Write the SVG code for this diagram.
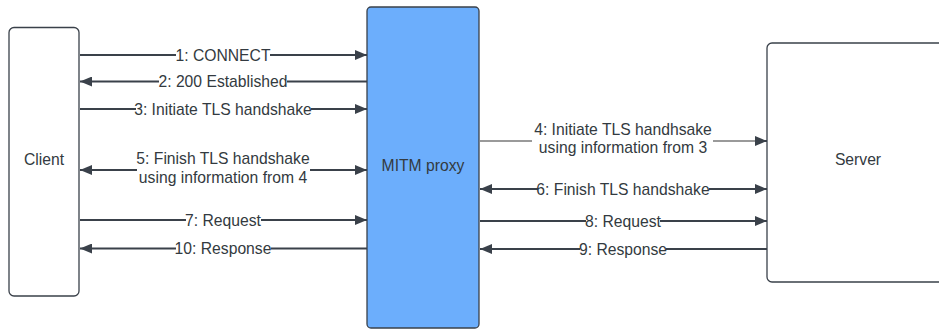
<svg xmlns="http://www.w3.org/2000/svg" width="939" height="329" viewBox="0 0 939 329">
<defs>
<style>
.box{fill:#ffffff;stroke:#3a414a;stroke-width:1.3}
.proxy{fill:#6caefc;stroke:#3a414a;stroke-width:1.3}
.t{font-family:"Liberation Sans",Arial,sans-serif;font-size:15.7px;fill:#333a40;text-anchor:middle}
.ln{stroke:#3a414a;stroke-width:2;fill:none}
.lg{stroke:#9a9a9a;stroke-width:2;fill:none}
.bg{fill:#ffffff}
</style>
<marker id="ah" viewBox="0 0 12 10" refX="12" refY="5" markerWidth="12" markerHeight="10" markerUnits="userSpaceOnUse" orient="auto-start-reverse">
<path d="M0,0 L12,5 L0,10 Z" fill="#3a414a"/>
</marker>
</defs>
<rect width="939" height="329" fill="#ffffff"/>
<g id="client"><rect class="box" x="9" y="27.5" width="70" height="268.5" rx="5"/><text class="t" x="44" y="165">Client</text></g>
<g id="proxy"><rect class="proxy" x="367" y="7" width="112" height="321" rx="4"/><text class="t" x="423" y="171">MITM proxy</text></g>
<g id="server"><rect class="box" x="767" y="43" width="190" height="239" rx="5"/><text class="t" x="858" y="165">Server</text></g>
<g id="connectors">
<line class="ln" x1="80" y1="55" x2="367" y2="55" marker-end="url(#ah)"/>
<rect class="bg" x="176" y="47" width="94" height="16"/><text class="t" x="223" y="60.5">1: CONNECT</text>
<line class="ln" x1="367" y1="81.5" x2="80" y2="81.5" marker-end="url(#ah)"/>
<rect class="bg" x="159" y="73" width="128" height="16"/><text class="t" x="223" y="87">2: 200 Established</text>
<line class="ln" x1="80" y1="109" x2="367" y2="109" marker-end="url(#ah)"/>
<rect class="bg" x="136" y="101" width="175" height="16"/><text class="t" x="223" y="114.5">3: Initiate TLS handshake</text>
<line class="ln" x1="80" y1="170" x2="367" y2="170" marker-start="url(#ah)" marker-end="url(#ah)"/>
<rect class="bg" x="137" y="150" width="173" height="38"/>
<text class="t" x="223" y="164">5: Finish TLS handshake</text>
<text class="t" x="223" y="183">using information from 4</text>
<line class="ln" x1="80" y1="220" x2="367" y2="220" marker-end="url(#ah)"/>
<rect class="bg" x="186" y="212" width="75" height="16"/><text class="t" x="223" y="225.5">7: Request</text>
<line class="ln" x1="367" y1="248.5" x2="80" y2="248.5" marker-end="url(#ah)"/>
<rect class="bg" x="176" y="240" width="95" height="16"/><text class="t" x="223" y="254">10: Response</text>
<line class="lg" x1="480" y1="141" x2="760" y2="141"/>
<line class="ln" x1="755" y1="141" x2="767" y2="141" marker-end="url(#ah)"/>
<rect class="bg" x="532" y="121" width="181" height="38"/>
<text class="t" x="623" y="135">4: Initiate TLS handhsake</text>
<text class="t" x="623" y="153">using information from 3</text>
<line class="ln" x1="480" y1="189" x2="767" y2="189" marker-start="url(#ah)" marker-end="url(#ah)"/>
<rect class="bg" x="538" y="181" width="171" height="16"/><text class="t" x="623" y="194.5">6: Finish TLS handshake</text>
<line class="ln" x1="480" y1="221" x2="767" y2="221" marker-end="url(#ah)"/>
<rect class="bg" x="586" y="213" width="74" height="16"/><text class="t" x="623" y="226.5">8: Request</text>
<line class="ln" x1="767" y1="249" x2="480" y2="249" marker-end="url(#ah)"/>
<rect class="bg" x="580" y="241" width="86" height="16"/><text class="t" x="623" y="254.5">9: Response</text>
</g>
</svg>
